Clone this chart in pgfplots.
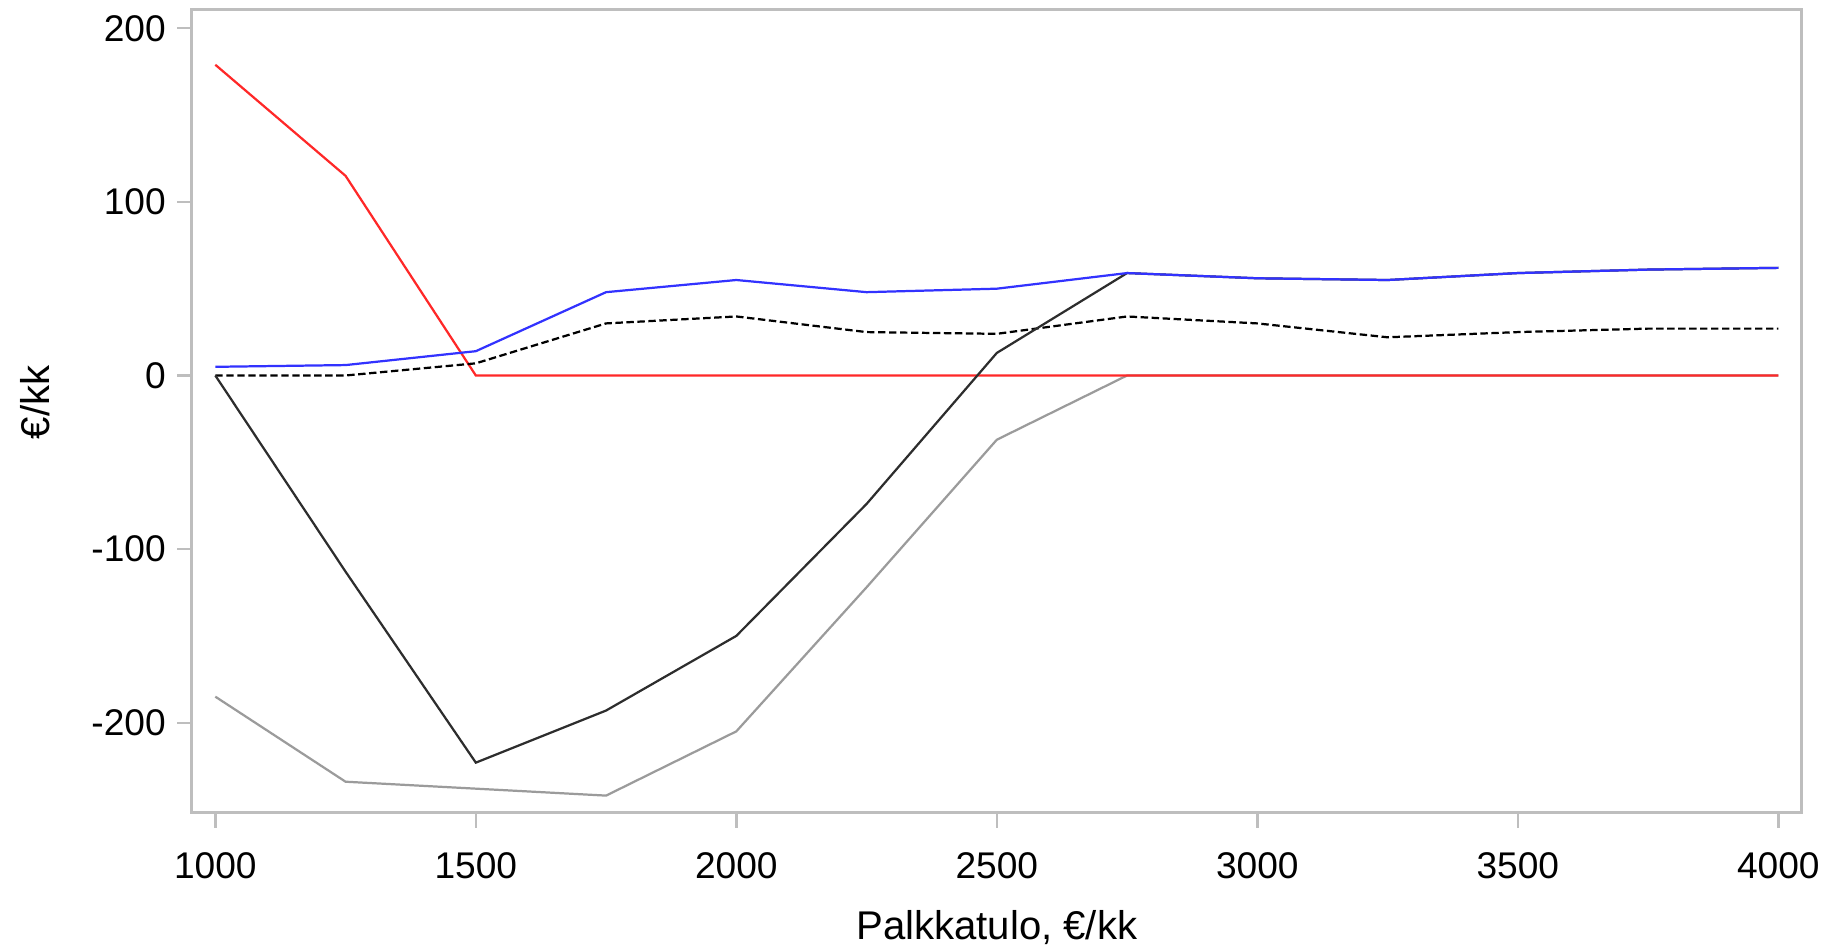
\documentclass[border=0pt]{standalone}
\usepackage{fontspec}
\setmainfont{Liberation Sans}
\usepackage{pgfplots}
\pgfplotsset{compat=1.18}
\definecolor{cred}{RGB}{255,40,40}
\definecolor{cblue}{RGB}{50,50,255}
\definecolor{cdark}{RGB}{45,45,45}
\definecolor{cgray}{RGB}{155,155,155}
\definecolor{cframe}{RGB}{190,190,190}

\begin{document}
\begin{tikzpicture}
  \begin{axis}[
      scale only axis,
      width=542pt,
      height=270.6pt,
      xmin=955, xmax=4045,
      ymin=-252, ymax=211,
      axis line style={cframe, line width=1pt},
      tick align=outside,
      xtick pos=left, ytick pos=left,
      major tick length=5pt,
      tick style={cframe, line width=0.8pt},
      xtick={1000,1500,2000,2500,3000,3500,4000},
      xticklabels={1000,1500,2000,2500,3000,3500,4000},
      ytick={-200,-100,0,100,200},
      yticklabels={-200,-100,0,100,200},
      ticklabel style={font=\fontsize{12.5}{14}\selectfont, black},
      xticklabel style={anchor=north, inner sep=0pt, yshift=-8pt},
      yticklabel style={anchor=east, inner sep=0pt, xshift=-3.6pt},
      xlabel={Palkkatulo, €/kk},
      ylabel={€/kk},
      label style={font=\fontsize{13.5}{15}\selectfont},
      xlabel style={at={(axis description cs:0.5,-0.143)}, anchor=center},
      ylabel style={at={(axis description cs:-0.0975,0.511)}, anchor=center},
      every axis plot/.append style={line width=0.75pt},
    ]
    % harmaa
    \addplot[cgray] coordinates {
        (1000,-185) (1250,-234) (1500,-238) (1750,-242) (2000,-205) (2250,-122)
        (2500,-37) (2750,0) (3000,0) (3250,0) (3500,0) (3750,0) (4000,0)};
    % punainen
    \addplot[cred] coordinates {
        (1000,179) (1250,115) (1500,0) (1750,0) (2000,0) (2250,0) (2500,0)
        (2750,0) (3000,0) (3250,0) (3500,0) (3750,0) (4000,0)};
    % katkoviiva
    \addplot[black, dash pattern=on 2.5pt off 1.2pt] coordinates {
        (1000,0) (1250,0) (1500,7) (1750,30) (2000,34) (2250,25) (2500,24)
        (2750,34) (3000,30) (3250,22) (3500,25) (3750,27) (4000,27)};
    % musta
    \addplot[cdark] coordinates {
        (1000,0) (1250,-113) (1500,-223) (1750,-193) (2000,-150) (2250,-74)
        (2500,13) (2750,59) (3000,56) (3250,55) (3500,59) (3750,61) (4000,62)};
    % sininen
    \addplot[cblue] coordinates {
        (1000,5) (1250,6) (1500,14) (1750,48) (2000,55) (2250,48) (2500,50)
        (2750,59) (3000,56) (3250,55) (3500,59) (3750,61) (4000,62)};
  \end{axis}
  \path (current axis.south west) ++(-64.6pt,-45.5pt) coordinate (bl);
  \path (current axis.north east) ++(8.5pt,3.1pt) coordinate (tr);
  \pgfresetboundingbox
  \path (bl) rectangle (tr);
\end{tikzpicture}
\end{document}
